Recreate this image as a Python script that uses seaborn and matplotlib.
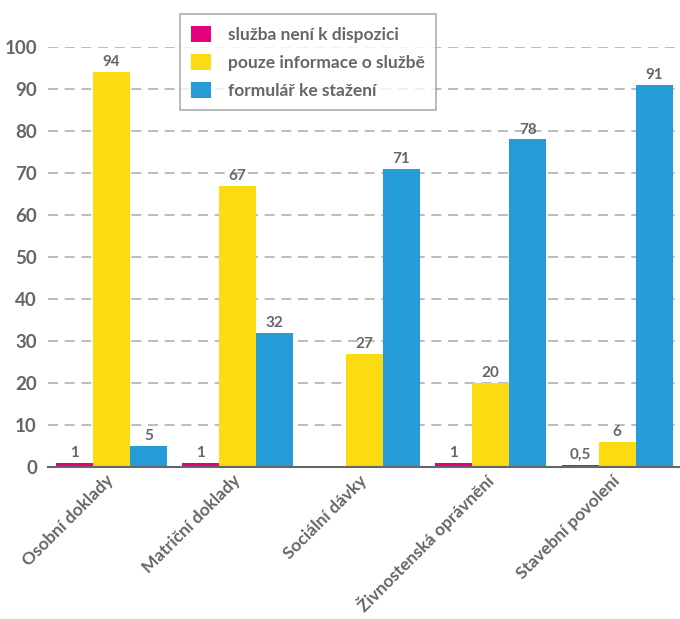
import matplotlib
matplotlib.use("Agg")
import matplotlib.pyplot as plt
import pandas as pd
import seaborn as sns

categories = ["Osobní doklady", "Matriční doklady", "Sociální dávky",
              "Živnostenská oprávnění", "Stavební povolení"]
series = ["služba není k dispozici", "pouze informace o službě", "formulář ke stažení"]
not_available = [1, 1, 0, 1, 0.5]
info_only = [94, 67, 27, 20, 6]
download_form = [5, 32, 71, 78, 91]
yticks = [0, 10, 20, 30, 40, 50, 60, 70, 80, 90, 100]

colors = ["#E6007E", "#FCDB12", "#259BD7"]
gray = "#666666"

df = pd.DataFrame({
    "category": categories * 3,
    "series": [s for s in series for _ in categories],
    "value": not_available + info_only + download_form,
})

sns.set_theme(style="white")
plt.rcParams["font.family"] = ["Lato", "DejaVu Sans"]

fig = plt.figure(figsize=(6.8, 6.19), dpi=100)
ax = fig.add_axes([0.0706, 0.2456, 0.93, 0.6785])

sns.barplot(data=df, x="category", y="value", hue="series", palette=colors,
            width=0.88, gap=0, saturation=1, linewidth=0, ax=ax)

for cont in ax.containers:
    labels = []
    for bar in cont:
        v = bar.get_height()
        if v == 0:
            labels.append("")
        else:
            labels.append(f"{v:g}".replace(".", ","))
    ax.bar_label(cont, labels=labels, padding=2, fontsize=11, color=gray,
                 fontweight="bold")

ax.set_ylim(0, 100)
ax.set_xlim(-0.5, len(categories) - 0.5)
ax.set_yticks(yticks)
ax.set_yticklabels([str(t) for t in yticks], fontsize=13.5, color=gray,
                   fontweight="bold")
ax.yaxis.grid(True, linestyle=(0, (6, 4)), color="#b0b0b0", linewidth=1.2)
ax.set_axisbelow(True)
ax.tick_params(axis="y", length=0, pad=8)

ax.set_xticks(range(len(categories)))
ax.set_xticklabels(categories, rotation=45, ha="right", va="center",
                   rotation_mode="anchor", fontsize=12.5, color=gray,
                   fontweight="bold")
ax.tick_params(axis="x", length=0, pad=8)
ax.set_xticks([i - 0.5 for i in range(len(categories))], minor=True)
ax.tick_params(axis="x", which="minor", direction="in", length=5, width=1.2,
               color=gray)

for s in ["top", "right", "left"]:
    ax.spines[s].set_visible(False)
ax.spines["bottom"].set_color(gray)
ax.spines["bottom"].set_linewidth(1.5)
ax.set_xlabel("")
ax.set_ylabel("")

leg = ax.legend(title=None, loc="upper left", bbox_to_anchor=(0.209, 1.078),
                borderaxespad=0, frameon=True, fancybox=False,
                edgecolor="#999999", fontsize=12.5, handlelength=1.1,
                handleheight=1.1, labelspacing=0.62, borderpad=0.65,
                handletextpad=1.0)
leg.get_frame().set_linewidth(1.2)
for t in leg.get_texts():
    t.set_color(gray)
    t.set_fontweight("bold")

fig.savefig("out.png", dpi=100)
